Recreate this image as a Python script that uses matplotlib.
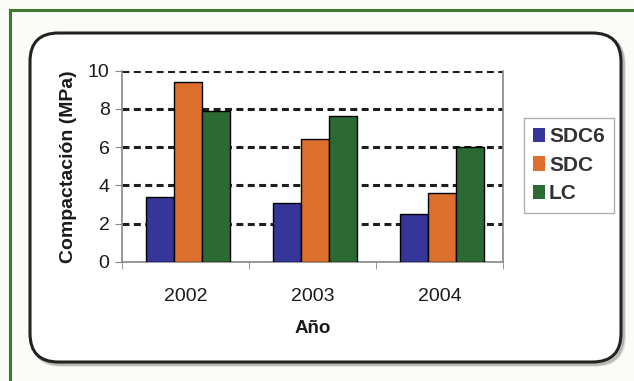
import numpy as np
import matplotlib.pyplot as plt
from matplotlib.patches import FancyBboxPatch
from matplotlib.lines import Line2D

plt.rcParams['font.family'] = ['Liberation Sans', 'DejaVu Sans']
plt.rcParams['lines.scale_dashes'] = False

years = ['2002', '2003', '2004']
series = ['SDC6', 'SDC', 'LC']
sdc6 = [3.4, 3.05, 2.5]
sdc = [9.4, 6.45, 3.6]
lc = [7.9, 7.65, 6.0]
colors = ['#35359a', '#dc6f2c', '#2c6a33']

W, H = 634, 381
fig = plt.figure(figsize=(W / 100, H / 100), dpi=100)
fig.patch.set_facecolor('#fbfbf8')

def px(x, y):
    # pixel coords (top-left origin) -> figure fraction
    return x / W, 1 - y / H

# Green frame (only top and left edges are in view)
x0, y0 = px(10, 10)
fig.add_artist(Line2D([x0, 1.0], [y0, y0], color='#3f7a30', lw=2.2,
                      transform=fig.transFigure, zorder=-10))
fig.add_artist(Line2D([x0, x0], [y0, 0.0], color='#3f7a30', lw=2.2,
                      transform=fig.transFigure, zorder=-10))

# Rounded panel with a soft shadow
bx0, by1 = px(30, 33)
bx1, by0 = px(621, 362)
for off, a in [(3, 0.12), (2, 0.18)]:
    sh = FancyBboxPatch((bx0 + off / W, by0 - off / H), bx1 - bx0, by1 - by0,
                        boxstyle='round,pad=0,rounding_size=0.045',
                        mutation_aspect=W / H, transform=fig.transFigure,
                        facecolor='none', edgecolor='black', lw=2.5, alpha=a,
                        zorder=-9)
    fig.add_artist(sh)
panel = FancyBboxPatch((bx0, by0), bx1 - bx0, by1 - by0,
                       boxstyle='round,pad=0,rounding_size=0.045',
                       mutation_aspect=W / H, transform=fig.transFigure,
                       facecolor='white', edgecolor='#222222', lw=2.2,
                       zorder=-8)
fig.add_artist(panel)

# Plot area
l, t = px(122, 70.7)
r, b = px(503, 261.7)
ax = fig.add_axes([l, b, r - l, t - b])
ax.set_facecolor('white')

x = np.arange(len(years))
w = 0.22
for i, (vals, name) in enumerate(zip([sdc6, sdc, lc], series)):
    ax.bar(x + (i - 1) * w + 0.02, vals, width=w, color=colors[i],
           edgecolor='black', linewidth=1.0, label=name, zorder=3)

ax.set_xlim(-0.5, 2.5)
ax.set_ylim(0, 10)
ax.set_yticks(range(0, 11, 2))
ax.set_xticks(x)
ax.set_xticklabels(years)
ax.set_xticks([-0.5, 0.5, 1.5, 2.5], minor=True)
ax.tick_params(axis='x', which='major', length=0, pad=19, labelsize=14,
               labelcolor='#1a1a1a')
ax.tick_params(axis='x', which='minor', length=5, color='#888888')
ax.tick_params(axis='y', length=5, color='#888888', labelsize=14,
               labelcolor='#1a1a1a', pad=4)

for yv in range(2, 11, 2):
    ax.axhline(yv, color='#1e1e1e', lw=2.2, linestyle=(0, (5.0, 3.2)),
               zorder=1)

for s in ['left', 'bottom', 'right']:
    ax.spines[s].set_color('#888888')
    ax.spines[s].set_linewidth(1.2)
ax.spines['top'].set_visible(False)

ax.set_ylabel('Compactación (MPa)', fontsize=14, fontweight='bold',
              color='#1a1a1a', labelpad=8)
ax.set_xlabel('Año', fontsize=13.5, fontweight='bold', color='#1a1a1a',
              labelpad=11)

leg = ax.legend(loc='upper left', bbox_to_anchor=(px(524, 0)[0], px(0, 118)[1]),
                bbox_transform=fig.transFigure, frameon=True, fancybox=False,
                prop={'size': 15, 'weight': 'bold'}, handlelength=0.55,
                handleheight=0.7, handletextpad=0.2, labelspacing=0.45,
                borderpad=0.45, borderaxespad=0)
leg.get_frame().set_edgecolor('#999999')
leg.get_frame().set_linewidth(1.0)
for txt in leg.get_texts():
    txt.set_color('#333333')
for h in leg.legend_handles:
    h.set_edgecolor('none')

fig.savefig('out.png', dpi=100, facecolor=fig.get_facecolor())
